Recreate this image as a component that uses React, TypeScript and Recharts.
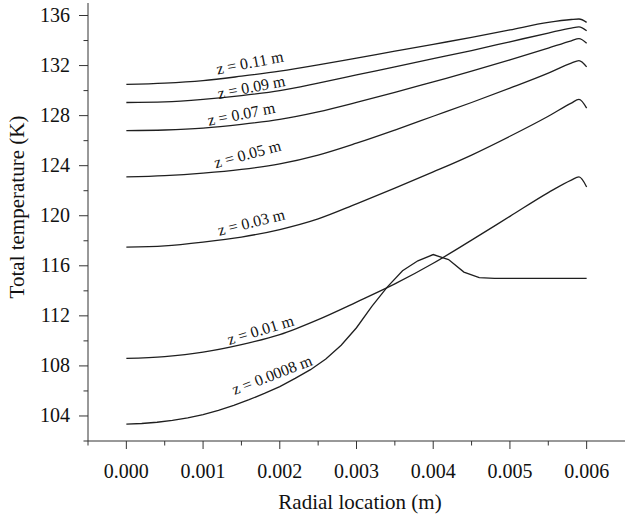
import { Label, Line, LineChart, ReferenceDot, XAxis, YAxis } from 'recharts'

// radial positions (m)
const radialCoarse = [0, 0.0005, 0.001, 0.0015, 0.002, 0.0025, 0.003, 0.0035, 0.004, 0.0045, 0.005, 0.0055, 0.0058, 0.0059, 0.006]
const radialFine = [
  0, 0.0002, 0.0004, 0.0006, 0.0008, 0.001, 0.0012, 0.0014, 0.0016, 0.0018, 0.002, 0.0022, 0.0024, 0.0026, 0.0028,
  0.003, 0.0032, 0.0034, 0.0036, 0.0038, 0.004, 0.0042, 0.0044, 0.0046, 0.0048, 0.005, 0.0052, 0.0054, 0.0056,
  0.0058, 0.006,
]

// total temperature (K) per axial station
const temp011 = [130.5, 130.6, 130.8, 131.15, 131.55, 132.05, 132.6, 133.15, 133.7, 134.25, 134.85, 135.45, 135.68, 135.72, 135.45]
const temp009 = [129.05, 129.1, 129.3, 129.6, 130.0, 130.6, 131.25, 131.9, 132.55, 133.2, 133.9, 134.6, 135.0, 135.1, 134.78]
const temp007 = [126.8, 126.85, 127.0, 127.3, 127.7, 128.3, 129.05, 129.85, 130.7, 131.55, 132.45, 133.4, 133.98, 134.15, 133.78]
const temp005 = [123.1, 123.2, 123.4, 123.7, 124.15, 124.85, 125.8, 126.85, 127.95, 129.05, 130.2, 131.4, 132.2, 132.4, 131.9]
const temp003 = [117.5, 117.6, 117.9, 118.3, 118.9, 119.75, 120.95, 122.2, 123.5, 124.85, 126.35, 127.95, 129.0, 129.3, 128.6]
const temp001 = [108.6, 108.75, 109.1, 109.7, 110.5, 111.7, 113.1, 114.55, 116.2, 118.05, 119.95, 121.85, 122.85, 123.1, 122.3]
const temp00008 = [
  103.35, 103.4, 103.5, 103.65, 103.85, 104.1, 104.45, 104.85, 105.3, 105.8, 106.35, 107.0, 107.7, 108.55, 109.65,
  111.05, 112.75, 114.3, 115.6, 116.4, 116.9, 116.5, 115.5, 115.05, 115.0, 115.0, 115.0, 115.0, 115.0, 115.0, 115.0,
]

const majorRadialTicks = [0, 0.001, 0.002, 0.003, 0.004, 0.005, 0.006]
const minorRadialTicks = [-0.0005, 0.0005, 0.0015, 0.0025, 0.0035, 0.0045, 0.0055]
const majorTempTicks = [104, 108, 112, 116, 120, 124, 128, 132, 136]
const minorTempTicks = [102, 106, 110, 114, 118, 122, 126, 130, 134]

const toPoints = (rs: number[], ts: number[]) => rs.map((r, i) => ({ r, T: ts[i] }))

const series = [
  { key: 'z011', data: toPoints(radialCoarse, temp011), curve: 'monotone' },
  { key: 'z009', data: toPoints(radialCoarse, temp009), curve: 'monotone' },
  { key: 'z007', data: toPoints(radialCoarse, temp007), curve: 'monotone' },
  { key: 'z005', data: toPoints(radialCoarse, temp005), curve: 'monotone' },
  { key: 'z003', data: toPoints(radialCoarse, temp003), curve: 'monotone' },
  { key: 'z001', data: toPoints(radialCoarse, temp001), curve: 'monotone' },
  { key: 'z00008', data: toPoints(radialFine, temp00008), curve: 'linear' },
]

const curveLabels = [
  { text: 'z = 0.11 m', r: 0.00161, T: 132.2, angle: -11 },
  { text: 'z = 0.09 m', r: 0.00163, T: 130.25, angle: -11 },
  { text: 'z = 0.07 m', r: 0.0015, T: 128.1, angle: -11 },
  { text: 'z = 0.05 m', r: 0.00158, T: 124.9, angle: -15 },
  { text: 'z = 0.03 m', r: 0.00163, T: 119.45, angle: -14 },
  { text: 'z = 0.01 m', r: 0.00175, T: 110.85, angle: -17 },
  { text: 'z = 0.0008 m', r: 0.0019, T: 107.25, angle: -21 },
]

const ink = '#1f1f1f'
const axisColor = '#333'
const font = '"Liberation Serif", "Times New Roman", serif'

function RadialTick({ x, y, payload }: any) {
  const major = majorRadialTicks.includes(payload.value)
  return (
    <g>
      <line x1={x} y1={y} x2={x} y2={y + (major ? 8 : 4.5)} stroke={axisColor} />
      {major && (
        <text x={x} y={y + 37} textAnchor="middle" fontFamily={font} fontSize={20} fill="#111">
          {payload.value.toFixed(3)}
        </text>
      )}
    </g>
  )
}

function TempTick({ x, y, payload }: any) {
  const major = majorTempTicks.includes(payload.value)
  return (
    <g>
      <line x1={x - (major ? 9 : 4.5)} y1={y} x2={x} y2={y} stroke={axisColor} />
      {major && (
        <text x={x - 18} y={y + 6.5} textAnchor="end" fontFamily={font} fontSize={20} fill="#111">
          {payload.value}
        </text>
      )}
    </g>
  )
}

export default function App() {
  return (
    <div style={{ position: 'absolute', left: 0, top: 0, background: '#fff' }}>
      <LineChart width={625} height={517} margin={{ top: 3, right: 0, bottom: 0, left: 0 }}>
        <XAxis
          dataKey="r"
          type="number"
          domain={[-0.0005, 0.0065]}
          ticks={[...minorRadialTicks, ...majorRadialTicks]}
          interval={0}
          allowDataOverflow
          height={76}
          tickSize={0}
          tickMargin={0}
          tickLine={false}
          tick={<RadialTick />}
          axisLine={{ stroke: axisColor }}
        >
          <Label
            content={() => (
              <text x={360} y={509} textAnchor="middle" fontFamily={font} fontSize={21} fill="#111">
                Radial location (m)
              </text>
            )}
          />
        </XAxis>
        <YAxis
          type="number"
          domain={[102, 137]}
          ticks={[...minorTempTicks, ...majorTempTicks]}
          interval={0}
          allowDataOverflow
          width={88}
          tickSize={0}
          tickMargin={0}
          tickLine={false}
          tick={<TempTick />}
          axisLine={{ stroke: axisColor }}
        >
          <Label
            content={() => (
              <text
                x={24}
                y={207}
                transform="rotate(-90, 24, 207)"
                textAnchor="middle"
                fontFamily={font}
                fontSize={21}
                fill="#111"
              >
                Total temperature (K)
              </text>
            )}
          />
        </YAxis>
        {series.map((s) => (
          <Line
            key={s.key}
            data={s.data}
            dataKey="T"
            type={s.curve as any}
            stroke={ink}
            strokeWidth={1.3}
            dot={false}
            activeDot={false}
            isAnimationActive={false}
          />
        ))}
        {curveLabels.map((l) => (
          <ReferenceDot
            key={l.text}
            x={l.r}
            y={l.T}
            r={0}
            fill="none"
            stroke="none"
            label={{
              content: (props: any) => {
                const cx = props.viewBox.x
                const cy = props.viewBox.y
                return (
                  <text
                    x={cx}
                    y={cy + 5}
                    textAnchor="middle"
                    transform={`rotate(${l.angle}, ${cx}, ${cy})`}
                    fontFamily={font}
                    fontSize={16}
                    fill="#111"
                  >
                    {l.text}
                  </text>
                )
              },
            }}
          />
        ))}
      </LineChart>
    </div>
  )
}
